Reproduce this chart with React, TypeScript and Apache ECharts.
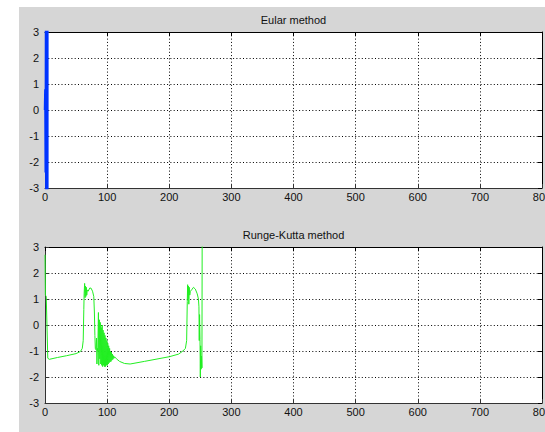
import React, { useEffect, useRef } from "react";
import * as echarts from "echarts";

const X_TICKS = [0, 100, 200, 300, 400, 500, 600, 700, 800];
const Y_TICKS = [-3, -2, -1, 0, 1, 2, 3];

const TITLE_TOP = "Eular method";
const TITLE_BOTTOM = "Runge-Kutta method";

// Euler method: diverging values right at the start
const eulerX = [0, 0.6, 1.2, 1.8, 2.4, 3.0, 3.6, 4.2];
const eulerY = [0, 0.8, -2.4, 5.6, -12, 26, -55, 118];

// Runge-Kutta method
const rkX = [
  0, 0.6, 2.0, 4.5, 7, 20, 35, 50, 57, 60, 61.5, 62.5, 63, 63.8, 64.5, 65.2,
  65.8, 66.5, 67.2, 68, 69.5, 72, 74, 76.5, 78.5, 79.5, 80.3, 81, 82, 83, 83.6,
  84.3, 85, 86, 86.6, 87.5, 88.3, 89, 89.8, 90.5, 91.3, 92, 92.8, 93.5, 94.3,
  95, 95.8, 96.5, 97.3, 98, 98.8, 99.5, 100.3, 101, 101.8, 102.5, 103.3, 104,
  104.8, 105.5, 106.3, 107, 107.8, 108.5, 109.3, 110, 111, 112, 115, 120, 128,
  137, 160, 200, 215, 222, 226, 228, 229, 229.6, 230.2, 230.8, 231.5, 232.2,
  233, 234, 236, 239, 242, 245, 247, 247.8, 248.3, 248.8, 249.5, 250, 250.6,
  251.3, 252, 252.6, 253,
];
const rkY = [
  2.7, 1.15, 1.1, -1.28, -1.32, -1.25, -1.18, -1.1, -1.02, -0.9, -0.6, 0.6,
  1.2, 1.6, 1.05, 1.5, 1.1, 1.45, 1.15, 1.35, 1.3, 1.42, 1.42, 1.3, 1.1, 0.5,
  -0.4, -0.9, -0.95, -0.5, -1.5, -0.9, -1.0, 0.48, -1.55, 0.2, -1.3, 0.1, -1.5,
  -0.1, -1.55, 0.0, -1.6, -0.2, -1.55, -0.3, -1.6, -0.4, -1.6, -0.5, -1.55,
  -0.6, -1.55, -0.7, -1.5, -0.8, -1.45, -0.9, -1.42, -1.0, -1.4, -1.05, -1.35,
  -1.12, -1.32, -1.18, -1.28, -1.22, -1.3, -1.4, -1.48, -1.5, -1.4, -1.22,
  -1.12, -1.0, -0.9, -0.6, 0.9, 1.55, 1.0, 1.5, 0.8, 1.45, 1.15, 1.3, 1.35,
  1.45, 1.38, 1.2, 1.0, 0.7, -0.6, 0.4, -0.55, -2.0, -0.8, -1.7, -1.2, -1.65,
  3.5,
];

const FONT = "Liberation Sans";

export default function App() {
  const ref = useRef<HTMLDivElement>(null);

  useEffect(() => {
    if (!ref.current) return;
    const chart = echarts.init(ref.current, null, { renderer: "svg" });

    const grids = [
      { left: 45, top: 32, width: 497, height: 156 },
      { left: 45, top: 247, width: 497, height: 156 },
    ];

    const dotted = { color: "#000", type: [1, 2.3], width: 1 };

    const xAxes: any[] = [];
    const yAxes: any[] = [];
    grids.forEach((_, gi) => {
      xAxes.push({
        type: "value",
        gridIndex: gi,
        position: "bottom",
        min: X_TICKS[0],
        max: X_TICKS[X_TICKS.length - 1],
        interval: 100,
        axisLine: { show: true, onZero: false, lineStyle: { color: "#333", width: 1 } },
        axisTick: { show: true, inside: true, length: 4, lineStyle: { color: "#333" } },
        axisLabel: {
          show: true,
          color: "#111",
          fontFamily: FONT,
          fontSize: 11,
          margin: 3,
        },
        splitLine: { show: true, lineStyle: dotted },
      });
      xAxes.push({
        type: "value",
        gridIndex: gi,
        position: "top",
        min: X_TICKS[0],
        max: X_TICKS[X_TICKS.length - 1],
        interval: 100,
        axisLine: { show: true, onZero: false, lineStyle: { color: "#000", width: 1 } },
        axisTick: { show: true, inside: true, length: 4, lineStyle: { color: "#000" } },
        axisLabel: { show: false },
        splitLine: { show: false },
      });
      yAxes.push({
        type: "value",
        gridIndex: gi,
        position: "left",
        min: Y_TICKS[0],
        max: Y_TICKS[Y_TICKS.length - 1],
        interval: 1,
        axisLine: { show: true, onZero: false, lineStyle: { color: "#333", width: 1 } },
        axisTick: { show: true, inside: true, length: 4, lineStyle: { color: "#333" } },
        axisLabel: {
          show: true,
          color: "#111",
          fontFamily: FONT,
          fontSize: 11,
          margin: 6,
        },
        splitLine: { show: true, lineStyle: dotted },
      });
      yAxes.push({
        type: "value",
        gridIndex: gi,
        position: "right",
        min: Y_TICKS[0],
        max: Y_TICKS[Y_TICKS.length - 1],
        interval: 1,
        axisLine: { show: true, onZero: false, lineStyle: { color: "#000", width: 1 } },
        axisTick: { show: true, inside: true, length: 4, lineStyle: { color: "#000" } },
        axisLabel: { show: false },
        splitLine: { show: false },
      });
    });

    chart.setOption({
      animation: false,
      backgroundColor: "#ffffff",
      graphic: [
        {
          type: "rect",
          z: -10,
          shape: { x: 19, y: 7, width: 540, height: 440 },
          style: { fill: "#d6d6d6" },
          silent: true,
        },
        {
          type: "text",
          x: 293.5,
          y: 20,
          style: {
            text: TITLE_TOP,
            fill: "#111",
            font: `11px "${FONT}"`,
            textAlign: "center",
            textVerticalAlign: "middle",
          },
        },
        {
          type: "text",
          x: 293.5,
          y: 235,
          style: {
            text: TITLE_BOTTOM,
            fill: "#111",
            font: `11px "${FONT}"`,
            textAlign: "center",
            textVerticalAlign: "middle",
          },
        },
      ],
      grid: grids.map((g) => ({
        ...g,
        show: true,
        backgroundColor: "#ffffff",
        borderWidth: 0,
        containLabel: false,
        outerBoundsMode: "none",
      })),
      xAxis: xAxes,
      yAxis: yAxes,
      series: [
        {
          type: "line",
          xAxisIndex: 0,
          yAxisIndex: 0,
          data: eulerX.map((x, i) => [x, eulerY[i]]),
          showSymbol: false,
          clip: true,
          lineStyle: { color: "#0033ff", width: 2.5 },
        },
        {
          type: "line",
          xAxisIndex: 2,
          yAxisIndex: 2,
          data: rkX.map((x, i) => [x, rkY[i]]),
          showSymbol: false,
          clip: true,
          lineStyle: { color: "#22ee22", width: 1 },
        },
      ],
    });

    return () => chart.dispose();
  }, []);

  return (
    <div
      ref={ref}
      style={{
        position: "fixed",
        left: 0,
        top: 0,
        width: 545,
        height: 432,
      }}
    />
  );
}
